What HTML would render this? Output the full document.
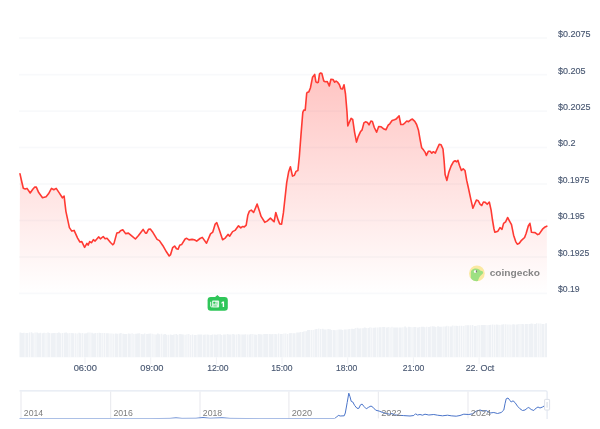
<!DOCTYPE html><html><head><meta charset="utf-8"><title>Chart</title><style>html,body{margin:0;padding:0;background:#fff;}body{width:600px;height:429px;overflow:hidden;font-family:"Liberation Sans",sans-serif;}svg{display:block;will-change:transform}text{font-family:"Liberation Sans",sans-serif;}</style></head><body>
<svg width="600" height="429" viewBox="0 0 600 429">
<defs><linearGradient id="g" x1="0" y1="72" x2="0" y2="293.5" gradientUnits="userSpaceOnUse"><stop offset="0" stop-color="#ff3a33" stop-opacity="0.30"/><stop offset="1" stop-color="#ff3a33" stop-opacity="0"/></linearGradient></defs>
<rect width="600" height="429" fill="#fff"/>
<rect x="19" y="37.15" width="528" height="1.7" fill="#f8f9fb"/>
<rect x="19" y="73.85" width="528" height="1.7" fill="#f8f9fb"/>
<rect x="19" y="110.35" width="528" height="1.7" fill="#f8f9fb"/>
<rect x="19" y="146.65" width="528" height="1.7" fill="#f8f9fb"/>
<rect x="19" y="183.15" width="528" height="1.7" fill="#f8f9fb"/>
<rect x="19" y="219.65" width="528" height="1.7" fill="#f8f9fb"/>
<rect x="19" y="256.15" width="528" height="1.7" fill="#f8f9fb"/>
<rect x="19" y="292.55" width="528" height="1.7" fill="#f8f9fb"/>
<polygon points="19.5,293.5 20.0,173.8 21.7,181.5 23.3,188.3 25.2,189.0 27.0,188.4 30.2,193.0 32.8,189.2 34.8,187.0 36.3,187.1 38.7,192.6 42.5,197.7 46.1,196.8 48.5,193.8 51.5,188.4 53.8,189.8 56.2,188.4 59.4,193.1 62.4,197.8 64.1,196.1 65.9,211.3 69.4,227.6 71.8,231.1 74.1,230.4 77.6,238.1 79.9,242.0 81.8,241.6 84.6,247.4 86.9,243.4 88.1,245.1 89.7,241.6 91.6,242.7 93.4,239.7 95.1,241.1 98.6,236.9 100.4,238.8 103.2,236.5 105.1,238.7 107.0,238.3 110.5,242.5 112.8,244.8 114.0,243.4 116.8,233.1 119.1,232.4 120.5,230.8 122.8,229.7 125.6,233.6 128.4,233.1 132.6,236.6 135.4,239.0 138.5,235.5 143.1,229.4 145.5,233.1 146.6,233.1 148.5,229.4 150.3,229.0 152.4,231.7 157.1,239.4 159.4,240.6 162.9,245.7 166.4,251.8 169.2,256.0 170.6,254.6 172.7,247.6 174.6,246.0 176.5,248.8 178.1,249.2 179.7,245.3 181.6,244.6 185.1,239.0 186.7,238.3 189.0,239.9 192.1,239.4 194.4,239.7 196.7,241.1 200.0,238.5 202.3,237.4 206.5,243.2 210.5,233.9 212.8,232.1 215.2,224.1 216.8,222.7 219.1,229.3 222.6,239.7 225.2,238.1 228.0,234.4 229.6,236.2 232.6,231.6 235.0,230.4 238.5,225.8 240.8,227.9 242.4,226.5 244.3,226.9 246.2,225.1 247.8,215.3 249.4,211.1 251.3,210.1 253.6,212.5 257.1,204.1 259.4,211.1 261.1,216.4 264.8,222.3 267.1,221.1 270.4,218.1 273.4,221.1 274.1,221.8 275.8,212.5 278.1,219.9 279.7,223.9 281.6,224.1 283.4,212.9 286.7,182.6 288.6,172.1 290.4,166.8 292.5,176.1 294.4,175.2 296.0,171.4 297.9,170.5 299.3,157.0 301.0,134.6 302.8,112.4 303.8,110.1 305.2,110.1 306.7,93.2 307.4,92.3 308.8,91.9 310.4,88.0 312.5,77.3 314.7,74.4 315.9,81.9 317.1,82.7 318.3,82.2 319.5,73.8 320.6,73.0 321.9,73.6 323.8,81.0 325.2,81.7 327.3,81.6 329.3,86.0 330.9,79.3 333.0,79.5 334.7,82.2 336.1,81.0 337.8,82.4 339.3,84.4 340.9,88.8 342.5,89.0 344.0,84.7 345.5,94.0 347.0,112.0 347.8,126.0 349.5,121.8 351.1,118.3 352.7,119.4 354.6,132.3 356.5,142.1 358.1,136.9 360.4,131.8 362.1,129.9 363.9,122.9 365.5,121.8 367.4,122.5 369.0,124.8 370.9,121.1 372.4,121.5 374.3,127.5 376.6,132.2 378.7,126.5 381.2,126.8 384.0,129.1 385.9,129.8 388.2,125.2 389.8,123.8 392.1,120.5 394.5,119.8 396.1,119.1 397.5,117.5 399.1,115.9 400.8,124.5 403.1,124.5 405.0,122.8 406.8,121.0 408.5,121.7 410.8,119.8 412.4,119.1 414.8,121.4 416.6,124.5 418.5,130.3 420.1,139.6 421.7,147.8 423.6,150.1 425.2,152.4 426.4,155.5 428.3,151.3 430.1,151.3 431.8,153.1 433.4,151.7 435.3,153.1 437.1,149.0 439.2,144.3 441.1,144.8 443.0,149.0 444.1,160.6 445.1,174.6 446.9,180.4 448.8,172.3 451.1,166.0 453.4,161.8 455.1,160.8 456.7,161.8 458.0,160.4 459.5,165.5 461.4,170.4 463.2,168.8 465.0,170.5 466.7,180.4 468.2,187.0 470.9,199.6 472.9,208.3 474.8,203.8 476.4,200.1 478.3,200.8 480.2,204.3 481.8,205.5 483.4,202.0 485.3,202.4 487.2,204.3 489.3,202.0 491.1,210.1 492.4,219.5 494.0,229.0 494.9,232.3 497.9,231.2 500.0,227.6 502.0,229.3 503.6,223.4 505.6,221.9 507.6,217.5 509.4,220.8 511.5,224.6 513.6,235.2 515.7,241.6 517.3,244.2 519.3,243.3 521.5,240.3 524.6,237.5 526.2,233.3 528.3,226.0 529.9,223.3 530.7,227.5 531.5,232.3 535.1,232.6 537.7,234.6 539.3,233.9 542.5,229.2 545.1,226.9 546.8,226.2 547,293.5" fill="url(#g)"/>
<polyline points="20.0,173.8 21.7,181.5 23.3,188.3 25.2,189.0 27.0,188.4 30.2,193.0 32.8,189.2 34.8,187.0 36.3,187.1 38.7,192.6 42.5,197.7 46.1,196.8 48.5,193.8 51.5,188.4 53.8,189.8 56.2,188.4 59.4,193.1 62.4,197.8 64.1,196.1 65.9,211.3 69.4,227.6 71.8,231.1 74.1,230.4 77.6,238.1 79.9,242.0 81.8,241.6 84.6,247.4 86.9,243.4 88.1,245.1 89.7,241.6 91.6,242.7 93.4,239.7 95.1,241.1 98.6,236.9 100.4,238.8 103.2,236.5 105.1,238.7 107.0,238.3 110.5,242.5 112.8,244.8 114.0,243.4 116.8,233.1 119.1,232.4 120.5,230.8 122.8,229.7 125.6,233.6 128.4,233.1 132.6,236.6 135.4,239.0 138.5,235.5 143.1,229.4 145.5,233.1 146.6,233.1 148.5,229.4 150.3,229.0 152.4,231.7 157.1,239.4 159.4,240.6 162.9,245.7 166.4,251.8 169.2,256.0 170.6,254.6 172.7,247.6 174.6,246.0 176.5,248.8 178.1,249.2 179.7,245.3 181.6,244.6 185.1,239.0 186.7,238.3 189.0,239.9 192.1,239.4 194.4,239.7 196.7,241.1 200.0,238.5 202.3,237.4 206.5,243.2 210.5,233.9 212.8,232.1 215.2,224.1 216.8,222.7 219.1,229.3 222.6,239.7 225.2,238.1 228.0,234.4 229.6,236.2 232.6,231.6 235.0,230.4 238.5,225.8 240.8,227.9 242.4,226.5 244.3,226.9 246.2,225.1 247.8,215.3 249.4,211.1 251.3,210.1 253.6,212.5 257.1,204.1 259.4,211.1 261.1,216.4 264.8,222.3 267.1,221.1 270.4,218.1 273.4,221.1 274.1,221.8 275.8,212.5 278.1,219.9 279.7,223.9 281.6,224.1 283.4,212.9 286.7,182.6 288.6,172.1 290.4,166.8 292.5,176.1 294.4,175.2 296.0,171.4 297.9,170.5 299.3,157.0 301.0,134.6 302.8,112.4 303.8,110.1 305.2,110.1 306.7,93.2 307.4,92.3 308.8,91.9 310.4,88.0 312.5,77.3 314.7,74.4 315.9,81.9 317.1,82.7 318.3,82.2 319.5,73.8 320.6,73.0 321.9,73.6 323.8,81.0 325.2,81.7 327.3,81.6 329.3,86.0 330.9,79.3 333.0,79.5 334.7,82.2 336.1,81.0 337.8,82.4 339.3,84.4 340.9,88.8 342.5,89.0 344.0,84.7 345.5,94.0 347.0,112.0 347.8,126.0 349.5,121.8 351.1,118.3 352.7,119.4 354.6,132.3 356.5,142.1 358.1,136.9 360.4,131.8 362.1,129.9 363.9,122.9 365.5,121.8 367.4,122.5 369.0,124.8 370.9,121.1 372.4,121.5 374.3,127.5 376.6,132.2 378.7,126.5 381.2,126.8 384.0,129.1 385.9,129.8 388.2,125.2 389.8,123.8 392.1,120.5 394.5,119.8 396.1,119.1 397.5,117.5 399.1,115.9 400.8,124.5 403.1,124.5 405.0,122.8 406.8,121.0 408.5,121.7 410.8,119.8 412.4,119.1 414.8,121.4 416.6,124.5 418.5,130.3 420.1,139.6 421.7,147.8 423.6,150.1 425.2,152.4 426.4,155.5 428.3,151.3 430.1,151.3 431.8,153.1 433.4,151.7 435.3,153.1 437.1,149.0 439.2,144.3 441.1,144.8 443.0,149.0 444.1,160.6 445.1,174.6 446.9,180.4 448.8,172.3 451.1,166.0 453.4,161.8 455.1,160.8 456.7,161.8 458.0,160.4 459.5,165.5 461.4,170.4 463.2,168.8 465.0,170.5 466.7,180.4 468.2,187.0 470.9,199.6 472.9,208.3 474.8,203.8 476.4,200.1 478.3,200.8 480.2,204.3 481.8,205.5 483.4,202.0 485.3,202.4 487.2,204.3 489.3,202.0 491.1,210.1 492.4,219.5 494.0,229.0 494.9,232.3 497.9,231.2 500.0,227.6 502.0,229.3 503.6,223.4 505.6,221.9 507.6,217.5 509.4,220.8 511.5,224.6 513.6,235.2 515.7,241.6 517.3,244.2 519.3,243.3 521.5,240.3 524.6,237.5 526.2,233.3 528.3,226.0 529.9,223.3 530.7,227.5 531.5,232.3 535.1,232.6 537.7,234.6 539.3,233.9 542.5,229.2 545.1,226.9 546.8,226.2" fill="none" stroke="#ff3a33" stroke-width="1.6" stroke-linejoin="round" stroke-linecap="round"/>
<text x="558" y="37.30" font-size="9" fill="#4a5973" stroke="#4a5973" stroke-width="0.15">$0.2075</text>
<text x="558" y="73.67" font-size="9" fill="#4a5973" stroke="#4a5973" stroke-width="0.15">$0.205</text>
<text x="558" y="110.04" font-size="9" fill="#4a5973" stroke="#4a5973" stroke-width="0.15">$0.2025</text>
<text x="558" y="146.41" font-size="9" fill="#4a5973" stroke="#4a5973" stroke-width="0.15">$0.2</text>
<text x="558" y="182.78" font-size="9" fill="#4a5973" stroke="#4a5973" stroke-width="0.15" textLength="31.2" lengthAdjust="spacingAndGlyphs">$0.1975</text>
<text x="558" y="219.15" font-size="9" fill="#4a5973" stroke="#4a5973" stroke-width="0.15" textLength="26.6" lengthAdjust="spacingAndGlyphs">$0.195</text>
<text x="558" y="255.52" font-size="9" fill="#4a5973" stroke="#4a5973" stroke-width="0.15" textLength="31.2" lengthAdjust="spacingAndGlyphs">$0.1925</text>
<text x="558" y="291.89" font-size="9" fill="#4a5973" stroke="#4a5973" stroke-width="0.15" textLength="21.7" lengthAdjust="spacingAndGlyphs">$0.19</text>
<polygon points="19.5,357.3 19.5,332.5 21.3,332.5 21.3,332.9 23.2,332.9 23.2,332.7 25.0,332.7 25.0,332.9 26.8,332.9 26.8,332.9 28.7,332.9 28.7,332.4 30.5,332.4 30.5,332.3 32.3,332.3 32.3,333.2 34.2,333.2 34.2,332.6 36.0,332.6 36.0,332.6 37.8,332.6 37.8,333.3 39.6,333.3 39.6,332.8 41.5,332.8 41.5,333.2 43.3,333.2 43.3,332.8 45.1,332.8 45.1,333.0 47.0,333.0 47.0,332.5 48.8,332.5 48.8,333.0 50.6,333.0 50.6,333.2 52.5,333.2 52.5,332.9 54.3,332.9 54.3,333.1 56.1,333.1 56.1,333.1 58.0,333.1 58.0,332.5 59.8,332.5 59.8,333.2 61.6,333.2 61.6,333.0 63.5,333.0 63.5,332.7 65.3,332.7 65.3,332.4 67.1,332.4 67.1,333.3 69.0,333.3 69.0,332.9 70.8,332.9 70.8,333.1 72.6,333.1 72.6,333.3 74.4,333.3 74.4,333.2 76.3,333.2 76.3,333.4 78.1,333.4 78.1,332.8 79.9,332.8 79.9,333.3 81.8,333.3 81.8,332.9 83.6,332.9 83.6,333.4 85.4,333.4 85.4,333.3 87.3,333.3 87.3,332.6 89.1,332.6 89.1,332.6 90.9,332.6 90.9,332.7 92.8,332.7 92.8,333.4 94.6,333.4 94.6,332.9 96.4,332.9 96.4,333.1 98.3,333.1 98.3,332.8 100.1,332.8 100.1,333.0 101.9,333.0 101.9,332.9 103.8,332.9 103.8,332.9 105.6,332.9 105.6,333.2 107.4,333.2 107.4,333.2 109.2,333.2 109.2,333.6 111.1,333.6 111.1,333.4 112.9,333.4 112.9,333.7 114.7,333.7 114.7,333.6 116.6,333.6 116.6,333.8 118.4,333.8 118.4,333.5 120.2,333.5 120.2,333.0 122.1,333.0 122.1,333.8 123.9,333.8 123.9,333.9 125.7,333.9 125.7,333.9 127.6,333.9 127.6,333.6 129.4,333.6 129.4,333.8 131.2,333.8 131.2,333.3 133.1,333.3 133.1,333.9 134.9,333.9 134.9,333.7 136.7,333.7 136.7,333.5 138.6,333.5 138.6,333.3 140.4,333.3 140.4,334.1 142.2,334.1 142.2,334.3 144.0,334.3 144.0,333.4 145.9,333.4 145.9,334.1 147.7,334.1 147.7,333.8 149.5,333.8 149.5,333.6 151.4,333.6 151.4,333.8 153.2,333.8 153.2,334.3 155.0,334.3 155.0,334.4 156.9,334.4 156.9,333.6 158.7,333.6 158.7,334.2 160.5,334.2 160.5,333.7 162.4,333.7 162.4,334.4 164.2,334.4 164.2,334.1 166.0,334.1 166.0,334.7 167.9,334.7 167.9,334.8 169.7,334.8 169.7,334.4 171.5,334.4 171.5,334.9 173.4,334.9 173.4,334.3 175.2,334.3 175.2,334.1 177.0,334.1 177.0,334.7 178.8,334.7 178.8,334.1 180.7,334.1 180.7,334.3 182.5,334.3 182.5,334.5 184.3,334.5 184.3,334.7 186.2,334.7 186.2,334.2 188.0,334.2 188.0,334.1 189.8,334.1 189.8,334.9 191.7,334.9 191.7,334.4 193.5,334.4 193.5,335.0 195.3,335.0 195.3,335.0 197.2,335.0 197.2,334.4 199.0,334.4 199.0,334.5 200.8,334.5 200.8,334.6 202.7,334.6 202.7,334.7 204.5,334.7 204.5,334.6 206.3,334.6 206.3,334.6 208.2,334.6 208.2,334.7 210.0,334.7 210.0,335.0 211.8,335.0 211.8,334.5 213.6,334.5 213.6,334.5 215.5,334.5 215.5,334.7 217.3,334.7 217.3,334.3 219.1,334.3 219.1,334.3 221.0,334.3 221.0,335.0 222.8,335.0 222.8,334.5 224.6,334.5 224.6,334.6 226.5,334.6 226.5,334.0 228.3,334.0 228.3,334.4 230.1,334.4 230.1,334.6 232.0,334.6 232.0,334.0 233.8,334.0 233.8,334.6 235.6,334.6 235.6,334.6 237.5,334.6 237.5,334.0 239.3,334.0 239.3,334.6 241.1,334.6 241.1,334.4 243.0,334.4 243.0,334.6 244.8,334.6 244.8,334.2 246.6,334.2 246.6,334.6 248.4,334.6 248.4,334.6 250.3,334.6 250.3,333.9 252.1,333.9 252.1,333.9 253.9,333.9 253.9,334.5 255.8,334.5 255.8,334.8 257.6,334.8 257.6,334.0 259.4,334.0 259.4,334.2 261.3,334.2 261.3,334.4 263.1,334.4 263.1,334.1 264.9,334.1 264.9,334.1 266.8,334.1 266.8,334.0 268.6,334.0 268.6,334.1 270.4,334.1 270.4,334.3 272.3,334.3 272.3,333.9 274.1,333.9 274.1,333.9 275.9,333.9 275.9,334.3 277.8,334.3 277.8,333.5 279.6,333.5 279.6,334.0 281.4,334.0 281.4,334.1 283.2,334.1 283.2,333.6 285.1,333.6 285.1,333.5 286.9,333.5 286.9,333.9 288.7,333.9 288.7,333.3 290.6,333.3 290.6,333.1 292.4,333.1 292.4,333.2 294.2,333.2 294.2,333.3 296.1,333.3 296.1,332.6 297.9,332.6 297.9,332.4 299.7,332.4 299.7,332.0 301.6,332.0 301.6,332.1 303.4,332.1 303.4,331.3 305.2,331.3 305.2,331.2 307.1,331.2 307.1,330.0 308.9,330.0 308.9,329.9 310.7,329.9 310.7,330.0 312.6,330.0 312.6,330.0 314.4,330.0 314.4,329.3 316.2,329.3 316.2,328.9 318.1,328.9 318.1,328.6 319.9,328.6 319.9,328.9 321.7,328.9 321.7,328.7 323.5,328.7 323.5,329.4 325.4,329.4 325.4,329.6 327.2,329.6 327.2,329.1 329.0,329.1 329.0,329.3 330.9,329.3 330.9,329.9 332.7,329.9 332.7,329.9 334.5,329.9 334.5,330.2 336.4,330.2 336.4,329.8 338.2,329.8 338.2,329.6 340.0,329.6 340.0,329.6 341.9,329.6 341.9,330.1 343.7,330.1 343.7,329.5 345.5,329.5 345.5,329.4 347.4,329.4 347.4,329.2 349.2,329.2 349.2,329.0 351.0,329.0 351.0,328.8 352.9,328.8 352.9,329.1 354.7,329.1 354.7,328.1 356.5,328.1 356.5,327.8 358.3,327.8 358.3,328.5 360.2,328.5 360.2,328.3 362.0,328.3 362.0,328.2 363.8,328.2 363.8,327.5 365.7,327.5 365.7,327.9 367.5,327.9 367.5,327.9 369.3,327.9 369.3,327.2 371.2,327.2 371.2,327.7 373.0,327.7 373.0,327.8 374.8,327.8 374.8,327.6 376.7,327.6 376.7,327.4 378.5,327.4 378.5,327.2 380.3,327.2 380.3,327.2 382.2,327.2 382.2,327.1 384.0,327.1 384.0,326.9 385.8,326.9 385.8,327.4 387.7,327.4 387.7,327.1 389.5,327.1 389.5,327.6 391.3,327.6 391.3,326.8 393.1,326.8 393.1,327.6 395.0,327.6 395.0,327.4 396.8,327.4 396.8,327.6 398.6,327.6 398.6,327.6 400.5,327.6 400.5,327.6 402.3,327.6 402.3,327.2 404.1,327.2 404.1,326.6 406.0,326.6 406.0,327.4 407.8,327.4 407.8,326.8 409.6,326.8 409.6,326.9 411.5,326.9 411.5,327.2 413.3,327.2 413.3,327.1 415.1,327.1 415.1,326.9 417.0,326.9 417.0,327.5 418.8,327.5 418.8,327.1 420.6,327.1 420.6,326.8 422.5,326.8 422.5,326.7 424.3,326.7 424.3,327.2 426.1,327.2 426.1,326.8 427.9,326.8 427.9,327.0 429.8,327.0 429.8,326.5 431.6,326.5 431.6,326.3 433.4,326.3 433.4,326.6 435.3,326.6 435.3,326.9 437.1,326.9 437.1,326.2 438.9,326.2 438.9,326.7 440.8,326.7 440.8,326.8 442.6,326.8 442.6,326.6 444.4,326.6 444.4,326.6 446.3,326.6 446.3,325.7 448.1,325.7 448.1,326.3 449.9,326.3 449.9,326.5 451.8,326.5 451.8,325.6 453.6,325.6 453.6,325.8 455.4,325.8 455.4,325.7 457.3,325.7 457.3,325.9 459.1,325.9 459.1,325.8 460.9,325.8 460.9,325.8 462.7,325.8 462.7,326.0 464.6,326.0 464.6,325.2 466.4,325.2 466.4,325.2 468.2,325.2 468.2,325.2 470.1,325.2 470.1,325.2 471.9,325.2 471.9,325.1 473.7,325.1 473.7,325.9 475.6,325.9 475.6,325.8 477.4,325.8 477.4,324.9 479.2,324.9 479.2,325.3 481.1,325.3 481.1,325.1 482.9,325.1 482.9,325.0 484.7,325.0 484.7,325.0 486.6,325.0 486.6,325.2 488.4,325.2 488.4,325.1 490.2,325.1 490.2,324.8 492.1,324.8 492.1,324.6 493.9,324.6 493.9,324.7 495.7,324.7 495.7,324.5 497.5,324.5 497.5,324.8 499.4,324.8 499.4,324.9 501.2,324.9 501.2,324.6 503.0,324.6 503.0,324.2 504.9,324.2 504.9,324.2 506.7,324.2 506.7,324.4 508.5,324.4 508.5,324.6 510.4,324.6 510.4,324.7 512.2,324.7 512.2,324.2 514.0,324.2 514.0,324.6 515.9,324.6 515.9,324.4 517.7,324.4 517.7,324.1 519.5,324.1 519.5,324.0 521.4,324.0 521.4,324.1 523.2,324.1 523.2,324.3 525.0,324.3 525.0,323.9 526.9,323.9 526.9,324.1 528.7,324.1 528.7,323.9 530.5,323.9 530.5,323.6 532.3,323.6 532.3,323.8 534.2,323.8 534.2,323.9 536.0,323.9 536.0,323.3 537.8,323.3 537.8,323.6 539.7,323.6 539.7,323.5 541.5,323.5 541.5,323.9 543.3,323.9 543.3,323.9 545.2,323.9 545.2,323.3 547.0,323.3 547,357.3" fill="#eef1f5"/>
<rect x="24.59" y="322" width="0.8" height="35.5" fill="#fff" fill-opacity="0.75"/>
<rect x="28.25" y="322" width="0.8" height="35.5" fill="#fff" fill-opacity="0.75"/>
<rect x="30.08" y="322" width="0.8" height="35.5" fill="#fff" fill-opacity="0.75"/>
<rect x="33.74" y="322" width="0.8" height="35.5" fill="#fff" fill-opacity="0.75"/>
<rect x="35.57" y="322" width="0.8" height="35.5" fill="#fff" fill-opacity="0.75"/>
<rect x="41.06" y="322" width="0.8" height="35.5" fill="#fff" fill-opacity="0.75"/>
<rect x="44.72" y="322" width="0.8" height="35.5" fill="#fff" fill-opacity="0.75"/>
<rect x="46.55" y="322" width="0.8" height="35.5" fill="#fff" fill-opacity="0.75"/>
<rect x="50.21" y="322" width="0.8" height="35.5" fill="#fff" fill-opacity="0.75"/>
<rect x="55.70" y="322" width="0.8" height="35.5" fill="#fff" fill-opacity="0.75"/>
<rect x="61.19" y="322" width="0.8" height="35.5" fill="#fff" fill-opacity="0.75"/>
<rect x="63.02" y="322" width="0.8" height="35.5" fill="#fff" fill-opacity="0.75"/>
<rect x="68.51" y="322" width="0.8" height="35.5" fill="#fff" fill-opacity="0.75"/>
<rect x="70.34" y="322" width="0.8" height="35.5" fill="#fff" fill-opacity="0.75"/>
<rect x="74.00" y="322" width="0.8" height="35.5" fill="#fff" fill-opacity="0.75"/>
<rect x="75.83" y="322" width="0.8" height="35.5" fill="#fff" fill-opacity="0.75"/>
<rect x="77.66" y="322" width="0.8" height="35.5" fill="#fff" fill-opacity="0.75"/>
<rect x="81.32" y="322" width="0.8" height="35.5" fill="#fff" fill-opacity="0.75"/>
<rect x="83.15" y="322" width="0.8" height="35.5" fill="#fff" fill-opacity="0.75"/>
<rect x="88.64" y="322" width="0.8" height="35.5" fill="#fff" fill-opacity="0.75"/>
<rect x="90.47" y="322" width="0.8" height="35.5" fill="#fff" fill-opacity="0.75"/>
<rect x="95.96" y="322" width="0.8" height="35.5" fill="#fff" fill-opacity="0.75"/>
<rect x="97.79" y="322" width="0.8" height="35.5" fill="#fff" fill-opacity="0.75"/>
<rect x="101.45" y="322" width="0.8" height="35.5" fill="#fff" fill-opacity="0.75"/>
<rect x="103.28" y="322" width="0.8" height="35.5" fill="#fff" fill-opacity="0.75"/>
<rect x="105.11" y="322" width="0.8" height="35.5" fill="#fff" fill-opacity="0.75"/>
<rect x="108.77" y="322" width="0.8" height="35.5" fill="#fff" fill-opacity="0.75"/>
<rect x="110.60" y="322" width="0.8" height="35.5" fill="#fff" fill-opacity="0.75"/>
<rect x="112.43" y="322" width="0.8" height="35.5" fill="#fff" fill-opacity="0.75"/>
<rect x="114.26" y="322" width="0.8" height="35.5" fill="#fff" fill-opacity="0.75"/>
<rect x="117.92" y="322" width="0.8" height="35.5" fill="#fff" fill-opacity="0.75"/>
<rect x="121.58" y="322" width="0.8" height="35.5" fill="#fff" fill-opacity="0.75"/>
<rect x="127.07" y="322" width="0.8" height="35.5" fill="#fff" fill-opacity="0.75"/>
<rect x="130.73" y="322" width="0.8" height="35.5" fill="#fff" fill-opacity="0.75"/>
<rect x="132.56" y="322" width="0.8" height="35.5" fill="#fff" fill-opacity="0.75"/>
<rect x="134.39" y="322" width="0.8" height="35.5" fill="#fff" fill-opacity="0.75"/>
<rect x="139.88" y="322" width="0.8" height="35.5" fill="#fff" fill-opacity="0.75"/>
<rect x="145.37" y="322" width="0.8" height="35.5" fill="#fff" fill-opacity="0.75"/>
<rect x="150.86" y="322" width="0.8" height="35.5" fill="#fff" fill-opacity="0.75"/>
<rect x="152.69" y="322" width="0.8" height="35.5" fill="#fff" fill-opacity="0.75"/>
<rect x="154.52" y="322" width="0.8" height="35.5" fill="#fff" fill-opacity="0.75"/>
<rect x="160.01" y="322" width="0.8" height="35.5" fill="#fff" fill-opacity="0.75"/>
<rect x="161.84" y="322" width="0.8" height="35.5" fill="#fff" fill-opacity="0.75"/>
<rect x="167.33" y="322" width="0.8" height="35.5" fill="#fff" fill-opacity="0.75"/>
<rect x="169.16" y="322" width="0.8" height="35.5" fill="#fff" fill-opacity="0.75"/>
<rect x="174.65" y="322" width="0.8" height="35.5" fill="#fff" fill-opacity="0.75"/>
<rect x="178.31" y="322" width="0.8" height="35.5" fill="#fff" fill-opacity="0.75"/>
<rect x="183.80" y="322" width="0.8" height="35.5" fill="#fff" fill-opacity="0.75"/>
<rect x="185.63" y="322" width="0.8" height="35.5" fill="#fff" fill-opacity="0.75"/>
<rect x="187.46" y="322" width="0.8" height="35.5" fill="#fff" fill-opacity="0.75"/>
<rect x="189.29" y="322" width="0.8" height="35.5" fill="#fff" fill-opacity="0.75"/>
<rect x="191.12" y="322" width="0.8" height="35.5" fill="#fff" fill-opacity="0.75"/>
<rect x="192.95" y="322" width="0.8" height="35.5" fill="#fff" fill-opacity="0.75"/>
<rect x="196.61" y="322" width="0.8" height="35.5" fill="#fff" fill-opacity="0.75"/>
<rect x="202.10" y="322" width="0.8" height="35.5" fill="#fff" fill-opacity="0.75"/>
<rect x="205.76" y="322" width="0.8" height="35.5" fill="#fff" fill-opacity="0.75"/>
<rect x="209.42" y="322" width="0.8" height="35.5" fill="#fff" fill-opacity="0.75"/>
<rect x="213.08" y="322" width="0.8" height="35.5" fill="#fff" fill-opacity="0.75"/>
<rect x="218.57" y="322" width="0.8" height="35.5" fill="#fff" fill-opacity="0.75"/>
<rect x="222.23" y="322" width="0.8" height="35.5" fill="#fff" fill-opacity="0.75"/>
<rect x="225.89" y="322" width="0.8" height="35.5" fill="#fff" fill-opacity="0.75"/>
<rect x="231.38" y="322" width="0.8" height="35.5" fill="#fff" fill-opacity="0.75"/>
<rect x="235.04" y="322" width="0.8" height="35.5" fill="#fff" fill-opacity="0.75"/>
<rect x="236.87" y="322" width="0.8" height="35.5" fill="#fff" fill-opacity="0.75"/>
<rect x="240.53" y="322" width="0.8" height="35.5" fill="#fff" fill-opacity="0.75"/>
<rect x="246.02" y="322" width="0.8" height="35.5" fill="#fff" fill-opacity="0.75"/>
<rect x="247.85" y="322" width="0.8" height="35.5" fill="#fff" fill-opacity="0.75"/>
<rect x="251.51" y="322" width="0.8" height="35.5" fill="#fff" fill-opacity="0.75"/>
<rect x="253.34" y="322" width="0.8" height="35.5" fill="#fff" fill-opacity="0.75"/>
<rect x="257.00" y="322" width="0.8" height="35.5" fill="#fff" fill-opacity="0.75"/>
<rect x="262.49" y="322" width="0.8" height="35.5" fill="#fff" fill-opacity="0.75"/>
<rect x="267.98" y="322" width="0.8" height="35.5" fill="#fff" fill-opacity="0.75"/>
<rect x="273.47" y="322" width="0.8" height="35.5" fill="#fff" fill-opacity="0.75"/>
<rect x="277.13" y="322" width="0.8" height="35.5" fill="#fff" fill-opacity="0.75"/>
<rect x="278.96" y="322" width="0.8" height="35.5" fill="#fff" fill-opacity="0.75"/>
<rect x="282.62" y="322" width="0.8" height="35.5" fill="#fff" fill-opacity="0.75"/>
<rect x="284.45" y="322" width="0.8" height="35.5" fill="#fff" fill-opacity="0.75"/>
<rect x="286.28" y="322" width="0.8" height="35.5" fill="#fff" fill-opacity="0.75"/>
<rect x="288.11" y="322" width="0.8" height="35.5" fill="#fff" fill-opacity="0.75"/>
<rect x="291.77" y="322" width="0.8" height="35.5" fill="#fff" fill-opacity="0.75"/>
<rect x="295.43" y="322" width="0.8" height="35.5" fill="#fff" fill-opacity="0.75"/>
<rect x="300.92" y="322" width="0.8" height="35.5" fill="#fff" fill-opacity="0.75"/>
<rect x="304.58" y="322" width="0.8" height="35.5" fill="#fff" fill-opacity="0.75"/>
<rect x="310.07" y="322" width="0.8" height="35.5" fill="#fff" fill-opacity="0.75"/>
<rect x="311.90" y="322" width="0.8" height="35.5" fill="#fff" fill-opacity="0.75"/>
<rect x="313.73" y="322" width="0.8" height="35.5" fill="#fff" fill-opacity="0.75"/>
<rect x="317.39" y="322" width="0.8" height="35.5" fill="#fff" fill-opacity="0.75"/>
<rect x="319.22" y="322" width="0.8" height="35.5" fill="#fff" fill-opacity="0.75"/>
<rect x="321.05" y="322" width="0.8" height="35.5" fill="#fff" fill-opacity="0.75"/>
<rect x="326.54" y="322" width="0.8" height="35.5" fill="#fff" fill-opacity="0.75"/>
<rect x="332.03" y="322" width="0.8" height="35.5" fill="#fff" fill-opacity="0.75"/>
<rect x="335.69" y="322" width="0.8" height="35.5" fill="#fff" fill-opacity="0.75"/>
<rect x="337.52" y="322" width="0.8" height="35.5" fill="#fff" fill-opacity="0.75"/>
<rect x="343.01" y="322" width="0.8" height="35.5" fill="#fff" fill-opacity="0.75"/>
<rect x="346.67" y="322" width="0.8" height="35.5" fill="#fff" fill-opacity="0.75"/>
<rect x="350.33" y="322" width="0.8" height="35.5" fill="#fff" fill-opacity="0.75"/>
<rect x="355.82" y="322" width="0.8" height="35.5" fill="#fff" fill-opacity="0.75"/>
<rect x="361.31" y="322" width="0.8" height="35.5" fill="#fff" fill-opacity="0.75"/>
<rect x="366.80" y="322" width="0.8" height="35.5" fill="#fff" fill-opacity="0.75"/>
<rect x="370.46" y="322" width="0.8" height="35.5" fill="#fff" fill-opacity="0.75"/>
<rect x="372.29" y="322" width="0.8" height="35.5" fill="#fff" fill-opacity="0.75"/>
<rect x="375.95" y="322" width="0.8" height="35.5" fill="#fff" fill-opacity="0.75"/>
<rect x="377.78" y="322" width="0.8" height="35.5" fill="#fff" fill-opacity="0.75"/>
<rect x="381.44" y="322" width="0.8" height="35.5" fill="#fff" fill-opacity="0.75"/>
<rect x="385.10" y="322" width="0.8" height="35.5" fill="#fff" fill-opacity="0.75"/>
<rect x="388.76" y="322" width="0.8" height="35.5" fill="#fff" fill-opacity="0.75"/>
<rect x="390.59" y="322" width="0.8" height="35.5" fill="#fff" fill-opacity="0.75"/>
<rect x="392.42" y="322" width="0.8" height="35.5" fill="#fff" fill-opacity="0.75"/>
<rect x="397.91" y="322" width="0.8" height="35.5" fill="#fff" fill-opacity="0.75"/>
<rect x="401.57" y="322" width="0.8" height="35.5" fill="#fff" fill-opacity="0.75"/>
<rect x="403.40" y="322" width="0.8" height="35.5" fill="#fff" fill-opacity="0.75"/>
<rect x="407.06" y="322" width="0.8" height="35.5" fill="#fff" fill-opacity="0.75"/>
<rect x="410.72" y="322" width="0.8" height="35.5" fill="#fff" fill-opacity="0.75"/>
<rect x="412.55" y="322" width="0.8" height="35.5" fill="#fff" fill-opacity="0.75"/>
<rect x="416.21" y="322" width="0.8" height="35.5" fill="#fff" fill-opacity="0.75"/>
<rect x="419.87" y="322" width="0.8" height="35.5" fill="#fff" fill-opacity="0.75"/>
<rect x="425.36" y="322" width="0.8" height="35.5" fill="#fff" fill-opacity="0.75"/>
<rect x="427.19" y="322" width="0.8" height="35.5" fill="#fff" fill-opacity="0.75"/>
<rect x="430.85" y="322" width="0.8" height="35.5" fill="#fff" fill-opacity="0.75"/>
<rect x="436.34" y="322" width="0.8" height="35.5" fill="#fff" fill-opacity="0.75"/>
<rect x="441.83" y="322" width="0.8" height="35.5" fill="#fff" fill-opacity="0.75"/>
<rect x="443.66" y="322" width="0.8" height="35.5" fill="#fff" fill-opacity="0.75"/>
<rect x="447.32" y="322" width="0.8" height="35.5" fill="#fff" fill-opacity="0.75"/>
<rect x="449.15" y="322" width="0.8" height="35.5" fill="#fff" fill-opacity="0.75"/>
<rect x="452.81" y="322" width="0.8" height="35.5" fill="#fff" fill-opacity="0.75"/>
<rect x="454.64" y="322" width="0.8" height="35.5" fill="#fff" fill-opacity="0.75"/>
<rect x="458.30" y="322" width="0.8" height="35.5" fill="#fff" fill-opacity="0.75"/>
<rect x="460.13" y="322" width="0.8" height="35.5" fill="#fff" fill-opacity="0.75"/>
<rect x="461.96" y="322" width="0.8" height="35.5" fill="#fff" fill-opacity="0.75"/>
<rect x="463.79" y="322" width="0.8" height="35.5" fill="#fff" fill-opacity="0.75"/>
<rect x="465.62" y="322" width="0.8" height="35.5" fill="#fff" fill-opacity="0.75"/>
<rect x="469.28" y="322" width="0.8" height="35.5" fill="#fff" fill-opacity="0.75"/>
<rect x="471.11" y="322" width="0.8" height="35.5" fill="#fff" fill-opacity="0.75"/>
<rect x="472.94" y="322" width="0.8" height="35.5" fill="#fff" fill-opacity="0.75"/>
<rect x="476.60" y="322" width="0.8" height="35.5" fill="#fff" fill-opacity="0.75"/>
<rect x="478.43" y="322" width="0.8" height="35.5" fill="#fff" fill-opacity="0.75"/>
<rect x="480.26" y="322" width="0.8" height="35.5" fill="#fff" fill-opacity="0.75"/>
<rect x="485.75" y="322" width="0.8" height="35.5" fill="#fff" fill-opacity="0.75"/>
<rect x="487.58" y="322" width="0.8" height="35.5" fill="#fff" fill-opacity="0.75"/>
<rect x="491.24" y="322" width="0.8" height="35.5" fill="#fff" fill-opacity="0.75"/>
<rect x="493.07" y="322" width="0.8" height="35.5" fill="#fff" fill-opacity="0.75"/>
<rect x="494.90" y="322" width="0.8" height="35.5" fill="#fff" fill-opacity="0.75"/>
<rect x="498.56" y="322" width="0.8" height="35.5" fill="#fff" fill-opacity="0.75"/>
<rect x="500.39" y="322" width="0.8" height="35.5" fill="#fff" fill-opacity="0.75"/>
<rect x="504.05" y="322" width="0.8" height="35.5" fill="#fff" fill-opacity="0.75"/>
<rect x="505.88" y="322" width="0.8" height="35.5" fill="#fff" fill-opacity="0.75"/>
<rect x="507.71" y="322" width="0.8" height="35.5" fill="#fff" fill-opacity="0.75"/>
<rect x="509.54" y="322" width="0.8" height="35.5" fill="#fff" fill-opacity="0.75"/>
<rect x="511.37" y="322" width="0.8" height="35.5" fill="#fff" fill-opacity="0.75"/>
<rect x="515.03" y="322" width="0.8" height="35.5" fill="#fff" fill-opacity="0.75"/>
<rect x="518.69" y="322" width="0.8" height="35.5" fill="#fff" fill-opacity="0.75"/>
<rect x="520.52" y="322" width="0.8" height="35.5" fill="#fff" fill-opacity="0.75"/>
<rect x="524.18" y="322" width="0.8" height="35.5" fill="#fff" fill-opacity="0.75"/>
<rect x="527.84" y="322" width="0.8" height="35.5" fill="#fff" fill-opacity="0.75"/>
<rect x="533.33" y="322" width="0.8" height="35.5" fill="#fff" fill-opacity="0.75"/>
<rect x="536.99" y="322" width="0.8" height="35.5" fill="#fff" fill-opacity="0.75"/>
<rect x="538.82" y="322" width="0.8" height="35.5" fill="#fff" fill-opacity="0.75"/>
<rect x="540.65" y="322" width="0.8" height="35.5" fill="#fff" fill-opacity="0.75"/>
<rect x="544.31" y="322" width="0.8" height="35.5" fill="#fff" fill-opacity="0.75"/>
<rect x="84.5" y="357.3" width="1" height="7" fill="#f0f2f6"/>
<text x="85.3" y="370.6" font-size="9.3" fill="#4a5973" stroke="#4a5973" stroke-width="0.15" text-anchor="middle">06:00</text>
<rect x="150.2" y="357.3" width="1" height="7" fill="#f0f2f6"/>
<text x="151.9" y="370.6" font-size="9.3" fill="#4a5973" stroke="#4a5973" stroke-width="0.15" text-anchor="middle">09:00</text>
<rect x="215.9" y="357.3" width="1" height="7" fill="#f0f2f6"/>
<text x="217.9" y="370.6" font-size="9.3" fill="#4a5973" stroke="#4a5973" stroke-width="0.15" text-anchor="middle" textLength="21.5" lengthAdjust="spacingAndGlyphs">12:00</text>
<rect x="281.5" y="357.3" width="1" height="7" fill="#f0f2f6"/>
<text x="281.9" y="370.6" font-size="9.3" fill="#4a5973" stroke="#4a5973" stroke-width="0.15" text-anchor="middle" textLength="21.4" lengthAdjust="spacingAndGlyphs">15:00</text>
<rect x="347.2" y="357.3" width="1" height="7" fill="#f0f2f6"/>
<text x="346.6" y="370.6" font-size="9.3" fill="#4a5973" stroke="#4a5973" stroke-width="0.15" text-anchor="middle" textLength="21.4" lengthAdjust="spacingAndGlyphs">18:00</text>
<rect x="412.9" y="357.3" width="1" height="7" fill="#f0f2f6"/>
<text x="413.5" y="370.6" font-size="9.3" fill="#4a5973" stroke="#4a5973" stroke-width="0.15" text-anchor="middle" textLength="21.6" lengthAdjust="spacingAndGlyphs">21:00</text>
<rect x="478.6" y="357.3" width="1" height="7" fill="#f0f2f6"/>
<text x="480.0" y="370.6" font-size="9.3" fill="#4a5973" stroke="#4a5973" stroke-width="0.15" text-anchor="middle" textLength="28.6" lengthAdjust="spacingAndGlyphs">22. Oct</text>
<defs><clipPath id="nc"><rect x="19" y="389" width="529" height="29.45"/></clipPath></defs>
<path d="M19.5 390.9 H545.9 Q547.1 390.9 547.1 392.1 V419" fill="none" stroke="#e4e9f2" stroke-width="1.2"/>
<rect x="20.4" y="391.4" width="1.2" height="27" fill="#ebecf0"/>
<rect x="110.0" y="391.4" width="1.2" height="27" fill="#ebecf0"/>
<rect x="199.4" y="391.4" width="1.2" height="27" fill="#ebecf0"/>
<rect x="288.3" y="391.4" width="1.2" height="27" fill="#ebecf0"/>
<rect x="377.8" y="391.4" width="1.2" height="27" fill="#ebecf0"/>
<rect x="467.4" y="391.4" width="1.2" height="27" fill="#ebecf0"/>
<polyline points="19.5,418.6 150.0,418.6 170.0,418.4 176.0,417.9 182.0,418.4 196.0,418.3 203.0,417.6 210.0,418.3 222.0,417.8 230.0,418.4 260.0,418.6 334.6,418.5 336.5,417.2 338.3,415.3 340.2,416.0 344.2,415.8 345.3,413.0 347.2,402.5 348.8,393.2 350.0,396.7 351.2,401.3 352.8,402.0 354.7,405.5 357.0,408.3 358.9,408.3 360.5,404.8 362.1,404.1 364.0,406.5 366.3,408.8 368.7,407.2 371.0,406.0 372.9,407.2 375.7,410.2 379.2,411.1 382.7,412.5 386.2,413.5 389.7,414.2 392.0,413.5 394.3,414.9 399.0,415.3 403.7,415.6 410.0,416.0 413.8,415.5 415.5,413.8 417.5,415.0 420.0,414.5 422.5,415.2 425.0,414.2 428.8,415.0 433.8,414.5 437.5,415.2 442.5,415.8 447.5,415.2 451.2,415.8 456.2,416.2 460.0,415.5 463.8,414.2 468.8,414.5 472.5,413.8 476.2,411.2 480.0,410.0 483.8,411.2 486.2,410.5 490.0,413.0 493.8,412.5 497.5,413.5 501.2,412.5 503.8,410.0 505.0,403.8 506.2,398.8 508.0,398.0 510.0,400.5 511.2,402.0 513.0,400.8 515.0,402.5 517.5,406.2 520.0,408.8 522.5,410.5 525.0,410.0 527.5,408.0 528.8,407.5 531.2,409.5 533.8,410.5 536.2,408.0 538.0,407.0 540.0,408.0 542.5,407.0 545.0,405.5 546.5,405.0" fill="none" stroke="#4a74c9" stroke-width="1" stroke-linejoin="round" clip-path="url(#nc)"/>
<text x="23.8" y="416.1" font-size="8.8" fill="#7c7c7c" textLength="19.4" lengthAdjust="spacingAndGlyphs">2014</text>
<text x="113.4" y="416.1" font-size="8.8" fill="#7c7c7c" textLength="19.4" lengthAdjust="spacingAndGlyphs">2016</text>
<text x="202.8" y="416.1" font-size="8.8" fill="#7c7c7c" textLength="19.4" lengthAdjust="spacingAndGlyphs">2018</text>
<text x="291.7" y="416.1" font-size="8.8" fill="#7c7c7c" textLength="20.4" lengthAdjust="spacingAndGlyphs">2020</text>
<text x="381.2" y="416.1" font-size="8.8" fill="#7c7c7c" textLength="20.4" lengthAdjust="spacingAndGlyphs">2022</text>
<text x="470.8" y="416.1" font-size="8.8" fill="#7c7c7c" textLength="20.4" lengthAdjust="spacingAndGlyphs">2024</text>
<rect x="544.6" y="399.4" width="5" height="10.6" rx="0.6" fill="#fff" stroke="#dde1e9" stroke-width="1"/>
<rect x="546.4" y="402" width="1.4" height="5.6" fill="#dde1e9"/>
<path d="M214.6 297.6 L217.4 294.9 L220.2 297.6 Z" fill="#2fc659"/>
<rect x="207.6" y="297" width="20.2" height="13.7" rx="3.2" fill="#2fc659"/>
<rect x="212.1" y="300.5" width="7" height="7" rx="0.9" fill="#fff" fill-opacity="0.86"/>
<path d="M210.7 301.8 V306 Q210.7 306.9 211.6 306.9 H212.4" fill="none" stroke="#fff" stroke-opacity="0.9" stroke-width="1"/>
<rect x="213.3" y="301.8" width="2.1" height="1.9" rx="0.5" fill="#2fc659"/>
<rect x="216" y="302" width="1.8" height="0.6" fill="#2fc659" fill-opacity="0.6"/><rect x="216" y="303.2" width="1.8" height="0.6" fill="#2fc659" fill-opacity="0.6"/><rect x="213.4" y="304.5" width="4.4" height="0.6" fill="#2fc659" fill-opacity="0.45"/>
<rect x="213.4" y="305.6" width="3.4" height="0.7" fill="#2fc659"/>
<path d="M222.7 301.4 H224.1 V307 H222.7 V303 L221.4 303.7 V302.4 Z" fill="#fff"/>
<circle cx="476.9" cy="273.4" r="7.85" fill="#fbe9a2"/>
<path d="M470.8 272.6 C470.9 270.6 472 269.4 473.6 268.9 C475.6 268.3 477.6 268.6 479.2 269.6 C479.8 270 480.1 270.6 480.8 270.7 C481.6 270.7 482.3 270.9 482.8 271.5 C483.4 272.3 483.2 273.3 482.4 274 C481.6 274.8 480.9 275.2 480.3 275.9 C479.4 277 479 278 478.6 279 C478.3 279.8 478.1 280.5 477.9 281.1 C475.2 281.6 472.4 280.3 470.8 277.9 Z" fill="#9de082"/>
<circle cx="475.4" cy="271.5" r="1.5" fill="#fff"/><path d="M475.9 270.1 A1.5 1.5 0 0 1 475.9 272.9 Z" fill="#5c5c5c"/>
<text x="489.7" y="276.0" font-size="9.4" font-weight="bold" fill="#858585" textLength="50.2" lengthAdjust="spacingAndGlyphs">coingecko</text>
</svg></body></html>
